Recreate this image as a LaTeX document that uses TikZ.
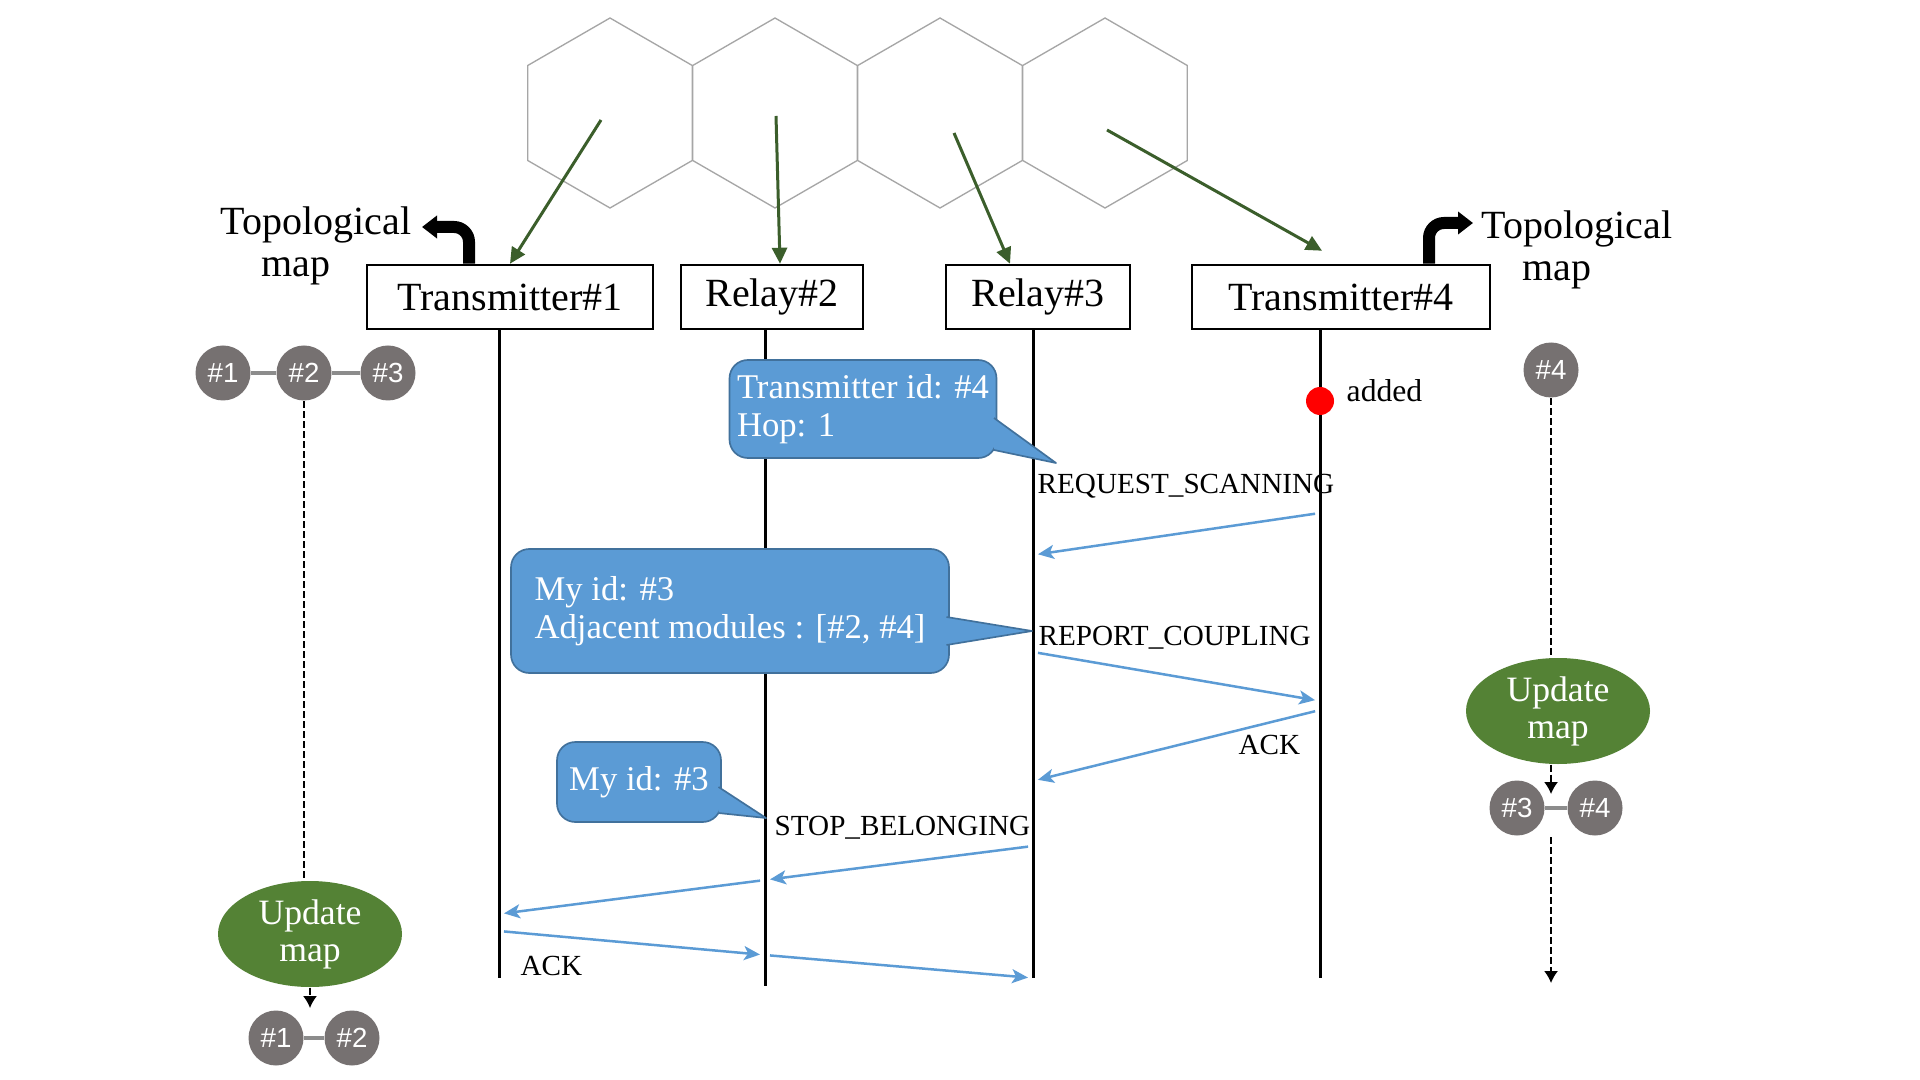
\documentclass[tikz,border=0pt]{standalone}
\usepackage{fontspec}
\setmainfont{Liberation Serif}
\setsansfont{Liberation Sans}
\usetikzlibrary{arrows.meta,shapes.geometric}

\definecolor{hexgray}{HTML}{A6A6A6}
\definecolor{boxblue}{HTML}{5B9BD5}
\definecolor{boxedge}{HTML}{41719C}
\definecolor{msgblue}{HTML}{5B9BD5}
\definecolor{mapgreen}{HTML}{548235}
\definecolor{arrowgreen}{HTML}{3B5E2B}
\definecolor{nodegray}{HTML}{767171}
\definecolor{linkgray}{HTML}{8C8C8C}

\begin{document}
\begin{tikzpicture}[x=0.3pt,y=-0.3pt,
  hexcell/.style={draw=hexgray,line width=0.4pt},
  head/.style={draw,line width=0.75pt,inner sep=0pt,minimum height=19.2pt,font=\fontsize{12}{14}\selectfont},
  life/.style={line width=0.9pt},
  callbox/.style={draw=boxedge,fill=boxblue,line width=0.5pt,rounded corners=5.5pt,align=left,inner sep=0pt,text=white,font=\fontsize{10.4}{11.4}\selectfont},
  callptr/.style={draw=boxedge,fill=boxblue,line width=0.5pt,line join=round},
  msg/.style={draw=msgblue,line width=0.75pt,shorten >=1.5pt,shorten <=1.5pt,-{Stealth[length=4.8pt,width=4.2pt,inset=1.2pt]}},
  msglabel/.style={anchor=base west,inner sep=0pt,font=\fontsize{8.75}{10}\selectfont},
  cellid/.style={circle,fill=nodegray,text=white,inner sep=0pt,minimum size=16.5pt,font=\sffamily\fontsize{8.3}{10}\selectfont},
  link/.style={draw=linkgray,line width=1pt},
  update/.style={ellipse,fill=mapgreen,text=white,inner sep=0pt,minimum width=55.2pt,minimum height=31.8pt,align=center,font=\fontsize{10.7}{11.1}\selectfont},
  track/.style={line width=0.45pt,dash pattern=on 2.1pt off 0.9pt},
  tracktip/.style={-{Latex[length=3.6pt,width=4.2pt]}},
  assign/.style={draw=arrowgreen,line width=0.9pt,-{Triangle[length=4.8pt,width=4.5pt]}},
  maparrow/.style={line width=3.6pt,rounded corners=4.5pt,-{Triangle[length=4.5pt,width=6.6pt]}},
  topo/.style={align=center,inner sep=0pt,font=\fontsize{12}{12.5}\selectfont}]

  \fill[white] (0,0) rectangle (1920,1080);
  \useasboundingbox (0,0) rectangle (1920,1080);

  \draw[hexcell] (610,113) +(90:95) -- +(30:95) -- +(-30:95) -- +(-90:95) -- +(-150:95) -- +(150:95) -- cycle;
  \draw[hexcell] (775,113) +(90:95) -- +(30:95) -- +(-30:95) -- +(-90:95) -- +(-150:95) -- +(150:95) -- cycle;
  \draw[hexcell] (940,113) +(90:95) -- +(30:95) -- +(-30:95) -- +(-90:95) -- +(-150:95) -- +(150:95) -- cycle;
  \draw[hexcell] (1105,113) +(90:95) -- +(30:95) -- +(-30:95) -- +(-90:95) -- +(-150:95) -- +(150:95) -- cycle;

  \node[head,minimum width=85.8pt] (T1) at (510,297) {Transmitter\#1};
  \node[head,minimum width=54.6pt] (R2) at (772,297) {Relay\#2};
  \node[head,minimum width=55.2pt] (R3) at (1038,297) {Relay\#3};
  \node[head,minimum width=89.4pt] (T4) at (1341,297) {Transmitter\#4};

  \coordinate (h1) at (601,120);
  \coordinate (h2) at (776,116);
  \coordinate (h3) at (954,133);
  \coordinate (h4) at (1107,130);
  \path (h1) edge[assign] (T1.north)
        (h2) edge[assign] ([xshift=2.4pt]R2.north)
        (h3) edge[assign] ([xshift=-8.4pt]R3.north)
        (h4) edge[assign] ([xshift=-5.7pt,yshift=3.9pt]T4.north);

  \node[topo] (topoL) at (316,246) {Topological\\map\hspace*{12pt}};
  \node[topo] (topoR) at (1577,250) {Topological\\map\hspace*{12pt}};
  \coordinate (tipL) at (422,227);
  \coordinate (tipR) at (1473,223);
  \draw[maparrow] ([xshift=-12.3pt]T1.north) |- (tipL);
  \draw[maparrow] ([xshift=26.4pt]T4.north) |- (tipR);

  \coordinate (l1) at (499,978);
  \coordinate (l2) at (765,986);
  \coordinate (l3) at (1033,978);
  \coordinate (l4) at (1320,978);
  \draw[life] (T1.south -| l1) -- (l1);
  \draw[life] (R2.south -| l2) -- (l2);
  \draw[life] (R3.south -| l3) -- (l3);
  \draw[life] (T4.south -| l4) -- (l4);

  \node[callbox,minimum width=80.1pt,minimum height=29.4pt] (scan) at (863,409) {Transmitter id: \#4\\Hop: 1};
  \node[callbox,minimum width=131.4pt,minimum height=37.2pt] (report) at (730,611) {My id: \#3\\Adjacent modules : [\#2, \#4]};
  \node[callbox,minimum width=49.2pt,minimum height=24pt] (stop) at (639,782) {My id: \#3};
  \coordinate (scanptr) at (1056,463);
  \coordinate (reportptr) at (1032,631);
  \coordinate (stopptr) at (766,818);
  \filldraw[callptr] ([xshift=-1pt,yshift=-2.7pt]scan.east) -- (scanptr) -- ([xshift=-1pt,yshift=-12.3pt]scan.east);
  \filldraw[callptr] ([xshift=-1pt,yshift=-1.8pt]report.east) -- (reportptr) -- ([xshift=-1pt,yshift=-10.2pt]report.east);
  \filldraw[callptr] ([xshift=-1pt,yshift=-1.5pt]stop.east) -- (stopptr) -- ([xshift=-1pt,yshift=-9.3pt]stop.east);

  \node[circle,fill=red,inner sep=0pt,minimum size=8.4pt] (dot) at (l4 |- 0,401) {};
  \node[msglabel,font=\fontsize{9.5}{11}\selectfont] (added) at (1346,402) {added};

  \path (l4 |- 0,513) edge[msg] (l3 |- 0,555)
        (l3 |- 0,652) edge[msg] (l4 |- 0,701)
        (l4 |- 0,710) edge[msg] (l3 |- 0,781)
        (l3 |- 0,846) edge[msg] (l2 |- 0,880)
        (l2 |- 0,880) edge[msg] (l1 |- 0,914)
        (l1 |- 0,931) edge[msg] (l2 |- 0,955)
        (l2 |- 0,955) edge[msg] (l3 |- 0,978);

  \node[msglabel] (lbscan) at (1037,493) {REQUEST\_SCANNING};
  \node[msglabel] (lbreport) at (1038,645) {REPORT\_COUPLING};
  \node[msglabel] (lbackR) at (1238,754) {ACK};
  \node[msglabel] (lbstop) at (774,835) {STOP\_BELONGING};
  \node[msglabel] (lbackL) at (520,975) {ACK};

  \node[cellid] (g1) at (223,373) {\#1};
  \node[cellid] (g2) at (304,373) {\#2};
  \node[cellid] (g3) at (388,373) {\#3};
  \draw[link] (g1) -- (g2) -- (g3);
  \node[update] (updL) at (310,934) {Update\\map};
  \draw[track] (g2) -- (g2 |- updL.north);
  \node[cellid] (g1b) at (276,1038) {\#1};
  \node[cellid] (g2b) at (352,1038) {\#2};
  \draw[link] (g1b) -- (g2b);
  \draw[track,tracktip] (updL.south) -- (updL.south |- 0,1008);

  \node[cellid] (g4) at (1551,370) {\#4};
  \node[update] (updR) at (1558,711) {Update\\map};
  \draw[track] (g4) -- (g4 |- updR.north);
  \node[cellid] (g3b) at (1517,808) {\#3};
  \node[cellid] (g4b) at (1595,808) {\#4};
  \draw[link] (g3b) -- (g4b);
  \draw[track,tracktip] (g4 |- updR.south) -- (g4 |- 0,794);
  \draw[track,tracktip] (g4 |- 0,837) -- (g4 |- 0,983);

\end{tikzpicture}
\end{document}
